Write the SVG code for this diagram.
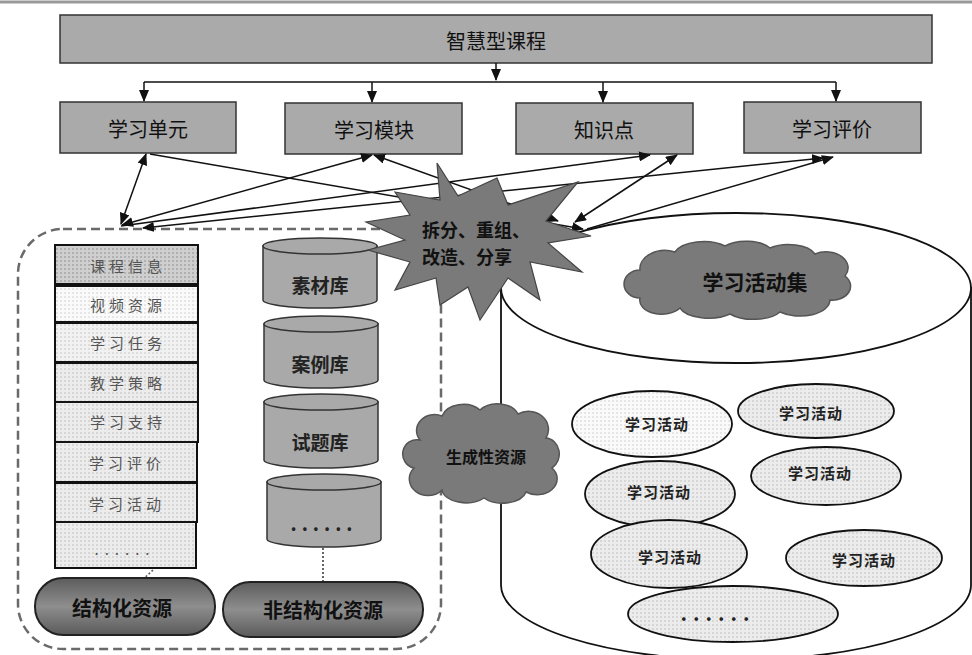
<svg xmlns="http://www.w3.org/2000/svg" width="972" height="655" viewBox="0 0 972 655">
<style>
.box{fill:#aaaaaa;stroke:#333;stroke-width:1.5}
.t20{font-family:"Noto Sans CJK SC","Liberation Sans",sans-serif;font-size:20px;fill:#111;text-anchor:middle;dominant-baseline:central}
.row{stroke:#111;stroke-width:2}
.rt{font-family:"Noto Sans CJK SC",sans-serif;font-size:15px;fill:#555;text-anchor:middle;dominant-baseline:central;letter-spacing:4px}
.cyl{fill:#a9a9a9;stroke:#333;stroke-width:1.5}
.ct{font-family:"Noto Sans CJK SC",sans-serif;font-size:19px;font-weight:bold;fill:#222;text-anchor:middle;dominant-baseline:central}
.pill{fill:url(#pg);stroke:#222;stroke-width:2}
.pt{font-family:"Noto Sans CJK SC",sans-serif;font-size:20px;font-weight:bold;fill:#111;text-anchor:middle;dominant-baseline:central}
.cl{fill:#7a7a7a;stroke:#555;stroke-width:1.5}
.el{fill:url(#dotA);stroke:#111;stroke-width:1.8}
.et{font-family:"Noto Sans CJK SC",sans-serif;font-size:15px;font-weight:bold;fill:#222;text-anchor:middle;dominant-baseline:central;letter-spacing:1px}
.ln{stroke:#111;stroke-width:1.5;fill:none}
</style>
<defs>
<marker id="ah" viewBox="0 0 12 10" refX="11" refY="5" markerWidth="12" markerHeight="10" markerUnits="userSpaceOnUse" orient="auto-start-reverse"><path d="M0,0 L12,5 L0,10 z" fill="#111"/></marker>
<pattern id="dotA" width="4" height="4" patternUnits="userSpaceOnUse"><rect width="4" height="4" fill="#ececec"/><rect width="2" height="2" fill="#d6d6d6"/></pattern>
<pattern id="dotD" width="4" height="4" patternUnits="userSpaceOnUse"><rect width="4" height="4" fill="#cfcfcf"/><rect width="2" height="2" fill="#b0b0b0"/></pattern>
<pattern id="dotL" width="4" height="4" patternUnits="userSpaceOnUse"><rect width="4" height="4" fill="#fafafa"/><rect width="2" height="2" fill="#e6e6e6"/></pattern>
<pattern id="dotM" width="4" height="4" patternUnits="userSpaceOnUse"><rect width="4" height="4" fill="#f1f1f1"/><rect width="2" height="2" fill="#dddddd"/></pattern>
<linearGradient id="pg" x1="0" y1="0" x2="0" y2="1"><stop offset="0" stop-color="#5c5c5c"/><stop offset="0.5" stop-color="#8e8e8e"/><stop offset="1" stop-color="#5a5a5a"/></linearGradient>
</defs>
<rect width="972" height="655" fill="#fff"/>
<line x1="0" y1="2" x2="972" y2="2" stroke="#9a9a9a" stroke-width="3"/>

<g id="n-course"><rect class="box" x="60" y="15" width="872" height="48"/><text class="t20" x="496" y="40">智慧型课程</text></g>
<g id="n-unit"><rect class="box" x="60" y="102" width="176" height="51"/><text class="t20" x="148" y="128">学习单元</text></g>
<g id="n-module"><rect class="box" x="285" y="103" width="177" height="51"/><text class="t20" x="374" y="129">学习模块</text></g>
<g id="n-point"><rect class="box" x="516" y="103" width="177" height="51"/><text class="t20" x="604" y="129">知识点</text></g>
<g id="n-eval"><rect class="box" x="744" y="102" width="177" height="51"/><text class="t20" x="832" y="128">学习评价</text></g>

<g id="n-resources">
<rect x="18" y="229" width="423" height="420" rx="45" fill="none" stroke="#6a6a6a" stroke-width="2.5" stroke-dasharray="9 5"/>
</g>

<g id="n-activity-set">
<path d="M501,288 L501,585 A235,75 0 0 0 971,585 L971,288 Z" fill="#fff" stroke="#111" stroke-width="1.8"/>
<ellipse cx="736" cy="288" rx="235" ry="75" fill="#fff" stroke="#111" stroke-width="1.8"/>
</g>

<g id="n-list">
<rect class="row" x="55" y="245" width="143" height="39" fill="url(#dotD)"/><text class="rt" x="128" y="265">课程信息</text>
<rect class="row" x="55" y="286" width="143" height="36" fill="url(#dotL)"/><text class="rt" x="128" y="304">视频资源</text>
<rect class="row" x="55" y="323" width="143" height="39" fill="url(#dotM)"/><text class="rt" x="128" y="342">学习任务</text>
<rect class="row" x="55" y="363" width="143" height="39" fill="url(#dotA)"/><text class="rt" x="128" y="382">教学策略</text>
<rect class="row" x="55" y="402" width="143" height="40" fill="url(#dotA)"/><text class="rt" x="128" y="421">学习支持</text>
<rect class="row" x="55" y="442" width="142" height="40" fill="url(#dotA)"/><text class="rt" x="127" y="462">学习评价</text>
<rect class="row" x="55" y="483" width="142" height="39" fill="url(#dotA)"/><text class="rt" x="127" y="503">学习活动</text>
<rect class="row" x="55" y="522" width="141" height="46" fill="url(#dotA)"/><text class="rt" x="125" y="548" style="letter-spacing:6px">......</text>
<line x1="153" y1="570" x2="138" y2="584" stroke="#555" stroke-width="1.5" stroke-dasharray="2 2"/>
</g>

<g id="n-cyl1"><path class="cyl" d="M263,246 L263,300 A57,8 0 0 0 377,300 L377,246 Z"/><ellipse class="cyl" cx="320" cy="246" rx="57" ry="8"/><text class="ct" x="320" y="284">素材库</text></g>
<g id="n-cyl2"><path class="cyl" d="M264,324 L264,380 A57,8 0 0 0 378,380 L378,324 Z"/><ellipse class="cyl" cx="321" cy="324" rx="57" ry="8"/><text class="ct" x="320" y="363">案例库</text></g>
<g id="n-cyl3"><path class="cyl" d="M264,402 L264,460 A57,8 0 0 0 378,460 L378,402 Z"/><ellipse class="cyl" cx="321" cy="402" rx="57" ry="8"/><text class="ct" x="320" y="441">试题库</text></g>
<g id="n-cyl4"><path class="cyl" d="M267,482 L267,539 A57,8 0 0 0 381,539 L381,482 Z"/><ellipse class="cyl" cx="324" cy="482" rx="57" ry="8"/><text class="ct" x="324" y="522" style="letter-spacing:5px">......</text>
<line x1="323" y1="548" x2="323" y2="582" stroke="#333" stroke-width="1.5" stroke-dasharray="2 2"/></g>

<g id="n-struct"><rect class="pill" x="35" y="578" width="180" height="57" rx="28"/><text class="pt" x="122" y="607">结构化资源</text></g>
<g id="n-unstruct"><rect class="pill" x="223" y="582" width="200" height="55" rx="27"/><text class="pt" x="323" y="609">非结构化资源</text></g>

<g id="connectors">
<line class="ln" x1="496" y1="63" x2="496" y2="80" marker-end="url(#ah)"/>
<line class="ln" x1="144" y1="82" x2="836" y2="82"/>
<line class="ln" x1="144" y1="82" x2="144" y2="101" marker-end="url(#ah)"/>
<line class="ln" x1="372" y1="82" x2="372" y2="102" marker-end="url(#ah)"/>
<line class="ln" x1="603" y1="82" x2="603" y2="102" marker-end="url(#ah)"/>
<line class="ln" x1="836" y1="82" x2="836" y2="101" marker-end="url(#ah)"/>
<line class="ln" x1="146" y1="154" x2="121" y2="224" marker-start="url(#ah)" marker-end="url(#ah)"/>
<line class="ln" x1="150" y1="154" x2="583" y2="229" marker-end="url(#ah)"/>
<line class="ln" x1="372" y1="155" x2="122" y2="225" marker-start="url(#ah)" marker-end="url(#ah)"/>
<line class="ln" x1="374" y1="155" x2="558" y2="221" marker-start="url(#ah)" marker-end="url(#ah)"/>
<line class="ln" x1="677" y1="155" x2="575" y2="222" marker-start="url(#ah)" marker-end="url(#ah)"/>
<line class="ln" x1="121" y1="226" x2="650" y2="155" marker-end="url(#ah)"/>
<line class="ln" x1="143" y1="228" x2="823" y2="158" marker-start="url(#ah)" marker-end="url(#ah)"/>
<line class="ln" x1="587" y1="229" x2="833" y2="157" marker-end="url(#ah)"/>
</g>

<g id="n-star">
<polygon points="437,163 458,196 497,178 508,205 578,182 546,221 591,236 548,243 582,272 530,262 540,300 508,278 480,320 468,287 440,305 436,278 395,290 410,262 368,250 405,240 366,222 410,215 395,192 440,200" fill="#7a7a7a" stroke="#444" stroke-width="1.2"/>
<text x="422" y="229" font-family="Noto Sans CJK SC,sans-serif" font-size="18" font-weight="bold" fill="#111" dominant-baseline="central">拆分、重组、</text>
<text x="422" y="256" font-family="Noto Sans CJK SC,sans-serif" font-size="18" font-weight="bold" fill="#111" dominant-baseline="central">改造、分享</text>
</g>

<g id="n-cloud-set">
<path class="cl" d="M640,270 a25,18 0 0 1 35,-18 a30,15 0 0 1 50,-6 a28,14 0 0 1 45,2 a28,14 0 0 1 45,6 a22,16 0 0 1 30,22 a18,14 0 0 1 -15,24 a30,16 0 0 1 -50,12 a30,14 0 0 1 -50,2 a30,14 0 0 1 -50,-6 a22,14 0 0 1 -40,-10 a16,14 0 0 1 0,-28 Z"/>
<text x="755" y="281" font-family="Noto Sans CJK SC,sans-serif" font-size="21" font-weight="bold" fill="#111" text-anchor="middle" dominant-baseline="central">学习活动集</text>
</g>

<g id="n-cloud-gen">
<path class="cl" d="M420,440 a18,16 0 0 1 22,-24 a22,16 0 0 1 38,-6 a22,16 0 0 1 38,4 a20,18 0 0 1 28,24 a14,16 0 0 1 6,30 a20,16 0 0 1 -26,24 a24,14 0 0 1 -42,6 a24,14 0 0 1 -42,-8 a18,16 0 0 1 -28,-22 a14,14 0 0 1 6,-28 Z"/>
<text x="486" y="456" font-family="Noto Sans CJK SC,sans-serif" font-size="16" font-weight="bold" fill="#111" text-anchor="middle" dominant-baseline="central">生成性资源</text>
</g>

<g id="n-act1"><ellipse class="el" cx="652" cy="424" rx="80" ry="33" style="fill:url(#dotL)"/><text class="et" x="657" y="423">学习活动</text></g>
<g id="n-act2"><ellipse class="el" cx="816" cy="411" rx="78" ry="27"/><text class="et" x="811" y="412">学习活动</text></g>
<g id="n-act3"><ellipse class="el" cx="660" cy="494" rx="75" ry="33"/><text class="et" x="659" y="491">学习活动</text></g>
<g id="n-act4"><ellipse class="el" cx="826" cy="476" rx="75" ry="29"/><text class="et" x="820" y="472">学习活动</text></g>
<g id="n-act5"><ellipse class="el" cx="669" cy="554" rx="78" ry="34"/><text class="et" x="670" y="556">学习活动</text></g>
<g id="n-act6"><ellipse class="el" cx="864" cy="558" rx="78" ry="28"/><text class="et" x="864" y="559">学习活动</text></g>
<g id="n-act7"><ellipse class="el" cx="733" cy="614" rx="105" ry="28"/><text class="et" x="718" y="612" style="font-size:20px;letter-spacing:6px">......</text></g>
</svg>
